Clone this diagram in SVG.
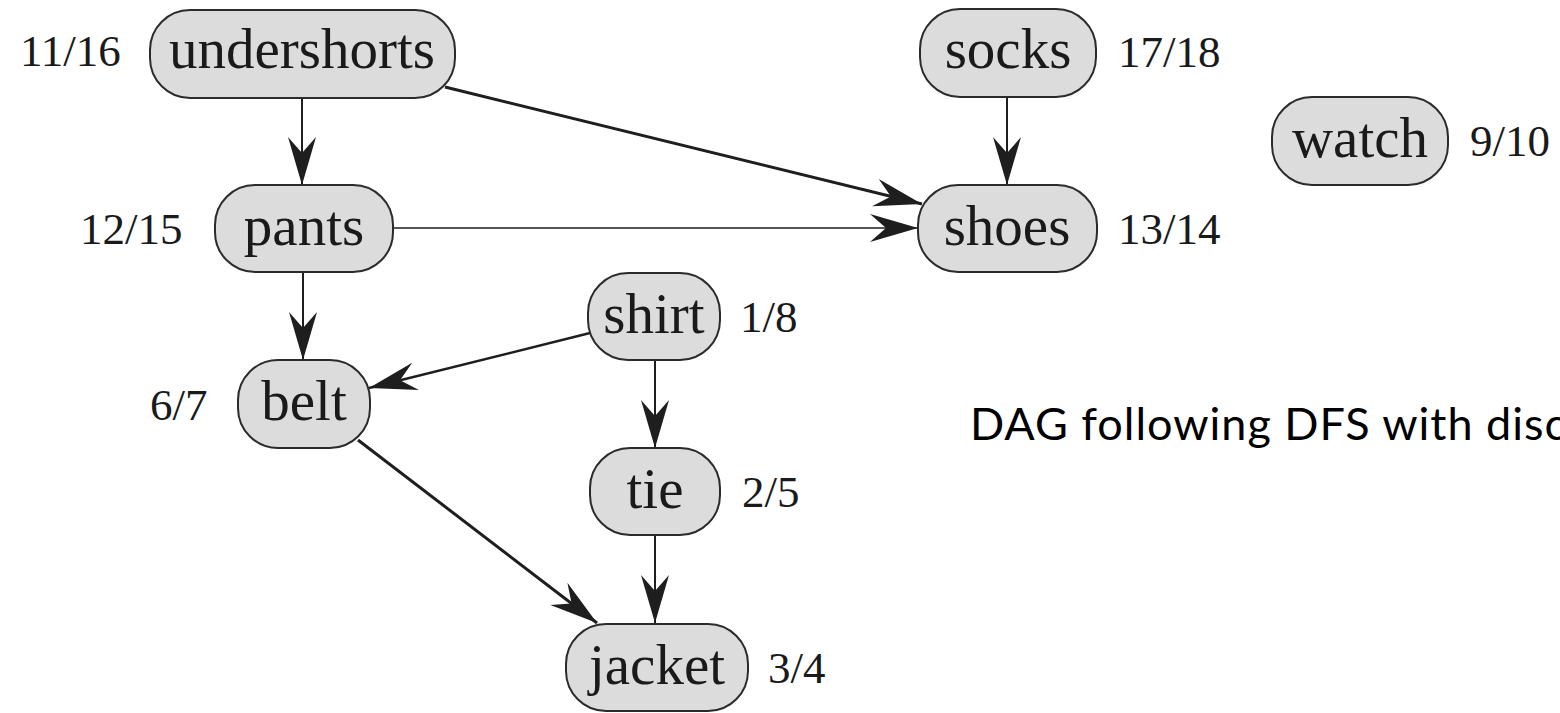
<svg xmlns="http://www.w3.org/2000/svg" width="1560" height="713" viewBox="0 0 1560 713">
  <style>
    .node rect { fill: #dcdcdc; stroke: #2b2b2b; stroke-width: 2; }
    .node text { font-family: "Liberation Serif", serif; font-size: 57px; fill: #1a1a1a; text-anchor: middle; }
    .lbl { font-family: "Liberation Serif", serif; font-size: 45px; fill: #1a1a1a; }
    .edge { stroke: #1e1e1e; fill: none; marker-end: url(#barb); }
    .caption { font-family: "Lato", "Liberation Sans", sans-serif; font-size: 45px; fill: #000; }
  </style>
  <defs>
    <marker id="barb" viewBox="-50 -16 52 32" markerWidth="52" markerHeight="32" refX="0" refY="0" orient="auto" markerUnits="userSpaceOnUse">
      <path d="M0,0 L-48,-14 L-32,0 L-48,14 Z" fill="#1e1e1e"/>
    </marker>
  </defs>

  <rect width="1560" height="713" fill="#fff"/>

  <!-- connectors -->
  <g id="edges">
    <line class="edge" x1="302" y1="98" x2="302" y2="185" stroke-width="2"/>
    <line class="edge" x1="445" y1="87" x2="922" y2="204" stroke-width="3"/>
    <line class="edge" x1="1007" y1="97" x2="1007" y2="185" stroke-width="2"/>
    <line class="edge" x1="393" y1="228" x2="918" y2="228" stroke-width="1.6"/>
    <line class="edge" x1="303" y1="272" x2="303" y2="360" stroke-width="2"/>
    <line class="edge" x1="590" y1="333" x2="369" y2="388" stroke-width="2.4"/>
    <line class="edge" x1="655" y1="360" x2="655" y2="448" stroke-width="2"/>
    <line class="edge" x1="358" y1="440" x2="597" y2="623" stroke-width="3"/>
    <line class="edge" x1="655" y1="535" x2="655" y2="623" stroke-width="2"/>
  </g>

  <!-- nodes -->
  <g id="undershorts" class="node">
    <rect x="150" y="10" width="305" height="88" rx="40"/>
    <text x="302" y="68">undershorts</text>
  </g>
  <text class="lbl" x="20" y="66">11/16</text>

  <g id="socks" class="node">
    <rect x="920" y="9" width="176" height="88" rx="40"/>
    <text x="1008" y="68">socks</text>
  </g>
  <text class="lbl" x="1118" y="67">17/18</text>

  <g id="watch" class="node">
    <rect x="1272" y="97" width="176" height="88" rx="40"/>
    <text x="1360" y="157">watch</text>
  </g>
  <text class="lbl" x="1470" y="156">9/10</text>

  <g id="pants" class="node">
    <rect x="215" y="185" width="178" height="87" rx="40"/>
    <text x="304" y="245">pants</text>
  </g>
  <text class="lbl" x="80" y="244">12/15</text>

  <g id="shoes" class="node">
    <rect x="918" y="185" width="179" height="87" rx="40"/>
    <text x="1007" y="245">shoes</text>
  </g>
  <text class="lbl" x="1118" y="244">13/14</text>

  <g id="shirt" class="node">
    <rect x="588" y="273" width="132" height="87" rx="40"/>
    <text x="654" y="333">shirt</text>
  </g>
  <text class="lbl" x="740" y="332">1/8</text>

  <g id="belt" class="node">
    <rect x="238" y="360" width="132" height="88" rx="40"/>
    <text x="304" y="420">belt</text>
  </g>
  <text class="lbl" x="150" y="420">6/7</text>

  <g id="tie" class="node">
    <rect x="590" y="448" width="130" height="87" rx="40"/>
    <text x="655" y="508">tie</text>
  </g>
  <text class="lbl" x="742" y="507">2/5</text>

  <g id="jacket" class="node">
    <rect x="566" y="624" width="182" height="87" rx="40"/>
    <text x="657" y="684">jacket</text>
  </g>
  <text class="lbl" x="768" y="683">3/4</text>

  <text class="caption" x="970" y="440" textLength="596" lengthAdjust="spacing">DAG following DFS with disc</text>
</svg>
